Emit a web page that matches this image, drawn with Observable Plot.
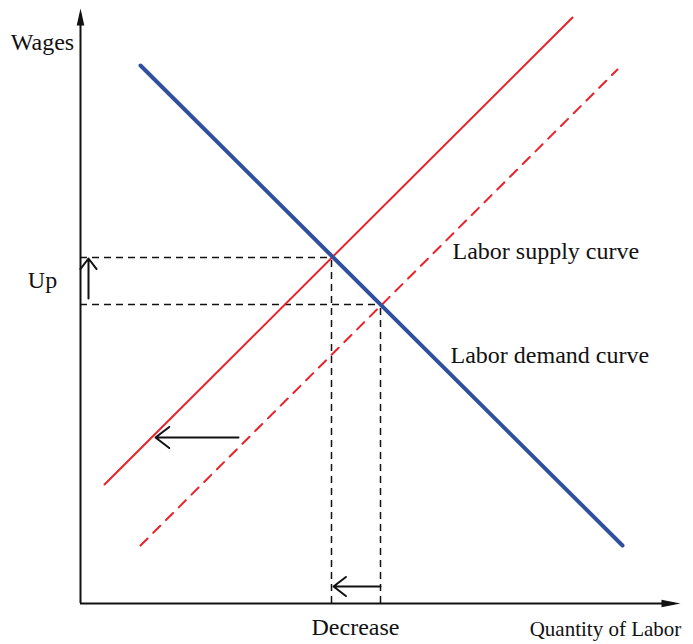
<!DOCTYPE html>
<html>
<head>
<meta charset="utf-8">
<script src="https://cdn.jsdelivr.net/npm/d3@7"></script>
<script src="https://cdn.jsdelivr.net/npm/@observablehq/plot@0.6"></script>
<style>
  html, body { margin: 0; padding: 0; background: #fff; }
  #chart svg { display: block; }
</style>
</head>
<body>
<div id="chart"></div>
<script>
// Curves: quantity of labor (q) vs wages (w), in arbitrary units
const demandCurve = [{q: 60, w: 538}, {q: 542, w: 58}];
const supplyCurve = [{q: 24, w: 119}, {q: 492, w: 586}];
const supplyShifted = [{q: 60, w: 58}, {q: 537, w: 534}];
// Equilibria (after shift / before shift)
const eqNew = {q: 251, w: 346};
const eqOld = {q: 300, w: 299};
const axisMax = {q: 600, w: 595};
// Annotation arrows
const wageArrow = [{q1: 8, w1: 305, q2: 8, w2: 345}];
const shiftArrow = [{q1: 158, w1: 166, q2: 75, w2: 166}];
const qtyArrow = [{q1: 300, w1: 17, q2: 253, w2: 17}];
// Labels
const centeredLabels = [
  {q: -38, w: 560.7, text: "Wages"},
  {q: -38, w: 322.7, text: "Up"},
  {q: 275, w: -24.3, text: "Decrease"}
];
const curveLabels = [
  {q: 372, w: 351.7, text: "Labor supply curve"},
  {q: 370, w: 247.7, text: "Labor demand curve"}
];
const axisTitle = [{q: 525, w: -25.3, text: "Quantity of Labor"}];

const guideH = [
  {w: eqNew.w, q1: 0, q2: eqNew.q},
  {w: eqOld.w, q1: 0, q2: eqOld.q}
];
const guideV = [
  {q: eqNew.q, w1: 0, w2: eqNew.w},
  {q: eqOld.q, w1: 0, w2: eqOld.w}
];

const headUp = {draw(ctx) { ctx.moveTo(0, 0); ctx.lineTo(-3.8, 17); ctx.lineTo(3.8, 17); ctx.closePath(); }};
const headRight = {draw(ctx) { ctx.moveTo(0, 0); ctx.lineTo(-19, -3.8); ctx.lineTo(-19, 3.8); ctx.closePath(); }};

const blue = "#2f4f9f";
const red = "#e8232b";
const ink = "#111";
const font = "Liberation Serif, Times New Roman, serif";

const plot = Plot.plot({
  width: 693,
  height: 644,
  marginLeft: 80,
  marginRight: 13,
  marginTop: 8,
  marginBottom: 41,
  x: {domain: [0, axisMax.q], axis: null},
  y: {domain: [0, axisMax.w], axis: null},
  style: {fontFamily: font, background: "#fff", overflow: "visible"},
  marks: [
    // guides
    Plot.ruleY(guideH, {y: "w", x1: "q1", x2: "q2", stroke: ink, strokeWidth: 1.5, strokeDasharray: "7,5"}),
    Plot.ruleX(guideV, {x: "q", y1: "w1", y2: "w2", stroke: ink, strokeWidth: 1.5, strokeDasharray: "7,5"}),
    // axes
    Plot.ruleX([0], {y1: 0, y2: axisMax.w - 6, stroke: ink, strokeWidth: 2}),
    Plot.ruleY([0], {x1: 0, x2: axisMax.q - 6, stroke: ink, strokeWidth: 2}),
    Plot.dot([{q: 0, w: axisMax.w}], {x: "q", y: "w", symbol: headUp, fill: ink, stroke: "none", r: 5}),
    Plot.dot([{q: axisMax.q, w: 0}], {x: "q", y: "w", symbol: headRight, fill: ink, stroke: "none", r: 5}),
    // curves
    Plot.line(supplyShifted, {x: "q", y: "w", stroke: red, strokeWidth: 2, strokeDasharray: "10,8"}),
    Plot.line(supplyCurve, {x: "q", y: "w", stroke: red, strokeWidth: 2}),
    Plot.line(demandCurve, {x: "q", y: "w", stroke: blue, strokeWidth: 4}),
    // arrows
    Plot.arrow(wageArrow, {x1: "q1", y1: "w1", x2: "q2", y2: "w2", stroke: ink, strokeWidth: 2, headLength: 13, headAngle: 75, insetEnd: 0}),
    Plot.arrow(shiftArrow, {x1: "q1", y1: "w1", x2: "q2", y2: "w2", stroke: ink, strokeWidth: 2, headLength: 13, headAngle: 75, insetEnd: 0}),
    Plot.arrow(qtyArrow, {x1: "q1", y1: "w1", x2: "q2", y2: "w2", stroke: ink, strokeWidth: 2, headLength: 13, headAngle: 75, insetEnd: 0}),
    // labels
    Plot.text(centeredLabels, {x: "q", y: "w", text: "text", textAnchor: "middle", fontSize: 24, fill: ink, fontFamily: font}),
    Plot.text(curveLabels, {x: "q", y: "w", text: "text", textAnchor: "start", fontSize: 24, fill: ink, fontFamily: font}),
    Plot.text(axisTitle, {x: "q", y: "w", text: "text", textAnchor: "middle", fontSize: 21, fill: ink, fontFamily: font})
  ]
});
document.getElementById("chart").appendChild(plot);
</script>
</body>
</html>
